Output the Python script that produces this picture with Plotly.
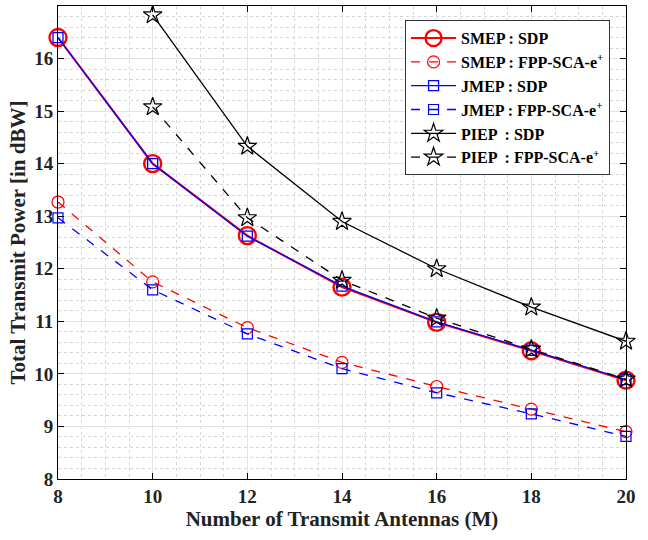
import plotly.graph_objects as go

antennas = [8, 10, 12, 14, 16, 18, 20]
smep_sdp = [16.40, 14.00, 12.63, 11.65, 10.98, 10.44, 9.88]
smep_fpp = [13.27, 11.75, 10.88, 10.22, 9.76, 9.33, 8.90]
jmep_sdp = [16.40, 14.00, 12.62, 11.67, 10.99, 10.45, 9.89]
jmep_fpp = [12.97, 11.60, 10.76, 10.10, 9.64, 9.24, 8.81]
piep_x = [10, 12, 14, 16, 18, 20]
piep_sdp = [16.83, 14.33, 12.90, 12.00, 11.27, 10.62]
piep_fpp = [15.08, 12.97, 11.78, 11.06, 10.47, 9.90]

fig = go.Figure()

def add(x, y, name, color, dash, symbol, size, width=1.3, mlw=1.3):
    fig.add_trace(go.Scatter(
        x=x, y=y, name=name, mode="lines+markers", cliponaxis=False,
        line=dict(color=color, dash=dash, width=width),
        marker=dict(symbol=symbol, size=size, color=color,
                    line=dict(color=color, width=mlw)),
    ))

add(antennas, smep_sdp, "SMEP : SDP", "red", "solid", "circle-open", 17, 2.0, 2.4)
add(antennas, smep_fpp, "SMEP : FPP-SCA-e<sup>+</sup>", "red", "dash", "circle-open", 12, 1.3, 1.2)
add(antennas, jmep_sdp, "JMEP : SDP", "blue", "solid", "square-open", 10, 1.3, 1.3)
add(antennas, jmep_fpp, "JMEP : FPP-SCA-e<sup>+</sup>", "blue", "dash", "square-open", 10, 1.3, 1.2)
add(piep_x, piep_sdp, "PIEP  : SDP", "black", "solid", "star-open", 14, 1.3, 1.2)
add(piep_x, piep_fpp, "PIEP  : FPP-SCA-e<sup>+</sup>", "black", "dash", "star-open", 14, 1.3, 1.2)

font_family = "Liberation Serif, Times New Roman, serif"
axis_common = dict(
    showline=True, linecolor="black", linewidth=1, mirror="ticks",
    ticks="inside", ticklen=6, tickcolor="black",
    showgrid=True, gridcolor="#e2e2e2", gridwidth=1,
    zeroline=False, automargin=False,
    tickfont=dict(family=font_family, size=19, color="#222", weight="bold"),
)

fig.update_xaxes(
    range=[8, 20], tickmode="linear", tick0=8, dtick=2,
    minor=dict(dtick=0.5, showgrid=True, gridcolor="#d6d6d6", griddash="dot", gridwidth=1),
    title=dict(text="<b>Number of Transmit Antennas (M)</b>",
               font=dict(family=font_family, size=21, color="#222"), standoff=4),
    **axis_common,
)
fig.update_yaxes(
    range=[8, 17], tickmode="linear", tick0=8, dtick=1,
    minor=dict(dtick=0.2, showgrid=True, gridcolor="#d6d6d6", griddash="dot", gridwidth=1),
    title=dict(text="<b>Total Transmit Power [in dBW]</b>",
               font=dict(family=font_family, size=21, color="#222"), standoff=2),
    **axis_common,
)

fig.update_layout(
    width=648, height=540,
    margin=dict(l=58, r=22, t=6, b=61),
    plot_bgcolor="white", paper_bgcolor="white",
    font=dict(family=font_family, color="black"),
    legend=dict(
        x=0.611, y=0.97, xanchor="left", yanchor="top",
        bgcolor="white", bordercolor="#333", borderwidth=1,
        font=dict(family=font_family, size=16, color="black", weight="bold"),
        itemwidth=45, tracegroupgap=0,
    ),
    showlegend=True,
)

fig.write_html("out.html", config={"displayModeBar": False},
               post_script="document.body.style.margin='0';")
